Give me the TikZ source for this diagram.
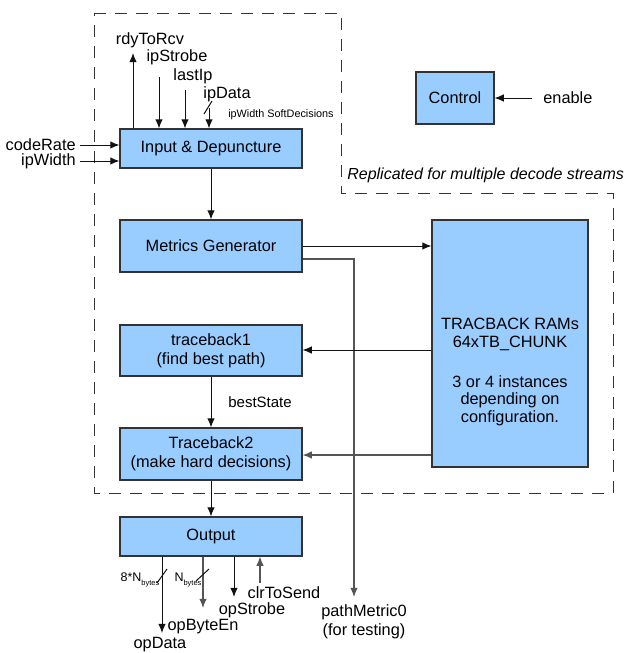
\documentclass[tikz,border=0pt]{standalone}
\usepackage{fontspec}
\setmainfont{Liberation Sans}
\usetikzlibrary{arrows.meta}
\newlength{\pxu}\setlength{\pxu}{0.6pt}
\definecolor{boxfill}{HTML}{99CCFF}
\definecolor{boxline}{HTML}{333333}
\definecolor{wire}{HTML}{111111}
\definecolor{gwire}{HTML}{555555}
\begin{document}
\begin{tikzpicture}[x=0.6pt,y=-0.6pt,
  font=\fontsize{9.8}{11.5}\selectfont,
  blk/.style={draw=boxline,fill=boxfill,line width=0.7pt,inner sep=0pt,align=center},
  arr/.style={draw=wire,line width=0.6pt,-{Latex[length=5.5pt,width=4.5pt]}},
  garr/.style={draw=gwire,line width=0.7pt,-{Latex[length=5.5pt,width=4.5pt]}},
  wln/.style={draw=wire,line width=0.6pt},
  lbl/.style={inner sep=0pt,align=center},
  tiny/.style={inner sep=0pt,font=\fontsize{6.5}{7}\selectfont},
  bound/.style={draw=boxline,line width=0.6pt,dash pattern=on 7.2pt off 5.4pt}]
\useasboundingbox (0,0) rectangle (632,653);

% boundary
\draw[bound] (94,13) -- (341,13) -- (341,193) -- (613,193) -- (613,493) -- (94,493) -- cycle;
\node[lbl,anchor=west,font=\fontsize{9.6}{11.5}\selectfont\itshape] (repl) at (347,175) {Replicated for multiple decode streams};

% blocks
\node[blk,minimum width=182\pxu,minimum height=39\pxu] (inp) at (211,148.5) {Input \& Depuncture};
\node[blk,minimum width=78\pxu,minimum height=52\pxu] (ctrl) at (455,98) {Control};
\node[blk,minimum width=182\pxu,minimum height=52\pxu] (met) at (211,246) {Metrics Generator};
\node[blk,minimum width=182\pxu,minimum height=51\pxu] (tb1) at (211,350.5) {traceback1\\(find best path)};
\node[blk,minimum width=182\pxu,minimum height=52\pxu] (tb2) at (211,454) {Traceback2\\(make hard decisions)};
\node[blk,minimum width=156\pxu,minimum height=247\pxu] (ram) at (510,343.5) {};
\node[lbl,font=\fontsize{9.8}{17.7\pxu}\selectfont] (ramtxt) at (510,372) {TRACBACK RAMs\\64xTB\_CHUNK\\[22\pxu]3 or 4 instances\\depending on\\configuration.};
\node[blk,minimum width=182\pxu,minimum height=39\pxu] (outp) at (211,536.5) {Output};

% top inputs
\node[lbl] (rdy) at (150,40) {rdyToRcv};
\node[lbl] (ips) at (177,57) {ipStrobe};
\node[lbl] (lip) at (193,76) {lastIp};
\node[lbl] (ipd) at (227,94) {ipData};
\node[tiny] (ipw) at (281,115) {ipWidth SoftDecisions};
\coordinate (rdyE) at (133,53);
\coordinate (ipsS) at (159,77);
\coordinate (lipS) at (185,90);
\coordinate (ipdS) at (209,108);
\draw[arr] (inp.north -| rdyE) -- (rdyE);
\draw[arr] (ipsS) -- (inp.north -| ipsS);
\draw[arr] (lipS) -- (inp.north -| lipS);
\draw[arr] (ipdS) -- (inp.north -| ipdS);
\coordinate (sl1a) at (204,114); \coordinate (sl1b) at (212,101);
\draw[wln] (sl1a) -- (sl1b);

% left inputs
\node[lbl,anchor=east] (cr) at (76,145) {codeRate};
\node[lbl,anchor=east] (ipwid) at (76,161) {ipWidth};
\draw[arr] (cr.east) ++(4,0) -- (inp.west |- cr.east);
\draw[arr] (ipwid.east) ++(4,0) -- (inp.west |- ipwid.east);

% control
\node[lbl,anchor=west] (en) at (543,98) {enable};
\draw[arr] (en.west) ++(-11,0) -- (ctrl.east);

% main flow
\draw[arr] (inp.south) -- (met.north);
\coordinate (m1) at (302,246);
\draw[arr] (met.east |- m1) -- (ram.west |- m1);
\coordinate (pmTop) at (354,259);
\coordinate (pmEnd) at (354,597);
\draw[garr] (met.east |- pmTop) -- (pmTop) -- (pmEnd);
\node[lbl] (pm) at (364,622) {pathMetric0\\(for testing)};
\coordinate (r1) at (432,350);
\coordinate (r2) at (432,455);
\draw[arr] (ram.west |- r1) -- (tb1.east |- r1);
\draw[garr] (ram.west |- r2) -- (tb2.east |- r2);
\draw[arr] (tb1.south) -- (tb2.north);
\node[lbl,anchor=west,font=\fontsize{9}{10}\selectfont] (bs) at (228,402) {bestState};
\draw[arr] (tb2.south) -- (outp.north);

% outputs
\coordinate (odE) at (162,633);
\coordinate (obE) at (203,608);
\coordinate (osE) at (234,597);
\coordinate (ctS) at (260,583);
\draw[arr] (outp.south -| odE) -- (odE);
\draw[garr] (outp.south -| obE) -- (obE);
\draw[arr] (outp.south -| osE) -- (osE);
\draw[garr] (ctS) -- (outp.south -| ctS);
\node[lbl] (od) at (160,645) {opData};
\node[lbl] (ob) at (203,627) {opByteEn};
\node[lbl] (os) at (252,610) {opStrobe};
\node[lbl] (ct) at (284,593) {clrToSend};
\coordinate (s2a) at (157,583); \coordinate (s2b) at (167,569);
\coordinate (s3a) at (196,581); \coordinate (s3b) at (209,569);
\draw[wln] (s2a) -- (s2b);
\draw[wln] (s3a) -- (s3b);
\node[tiny,font=\fontsize{7.5}{8}\selectfont] (n8) at (140,580) {8*N\raisebox{-0.6ex}{\fontsize{4.5}{5}\selectfont bytes}};
\node[tiny,font=\fontsize{7.5}{8}\selectfont] (n1) at (188,580) {N\raisebox{-0.6ex}{\fontsize{4.5}{5}\selectfont bytes}};
\end{tikzpicture}
\end{document}
